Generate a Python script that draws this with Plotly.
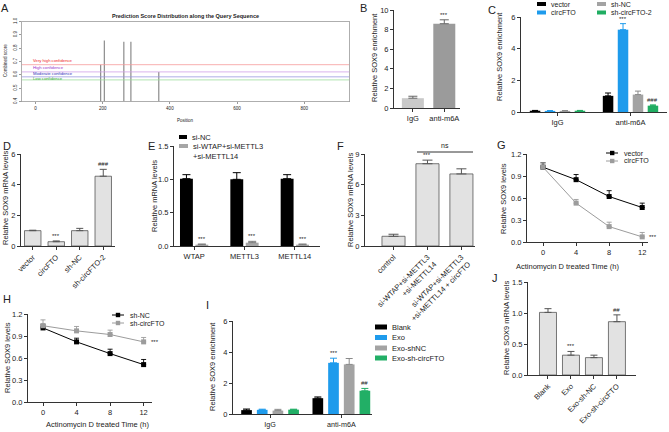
import plotly.graph_objects as go

W, H = 669, 432
def px(x): return x / W
def py(y): return 1 - y / H

FONT = "Liberation Sans, Arial, sans-serif"
AX = '#333333'
TXT = '#222222'
TICK = 7.5

# ---------------- data ----------------
# A: prediction score distribution
a_positions = [194, 205, 263, 284, 367]
a_scores = [0.676, 0.858, 0.848, 0.848, 0.622]
a_thr_names = ['Very high confidence', 'High confidence', 'Moderate confidence', 'Low confidence']
a_thr_values = [0.676, 0.622, 0.585, 0.562]
a_thr_line = ['#f59a9a', '#cfa0e8', '#9a9ae0', '#9ede9e']
a_thr_text = ['#ee2222', '#9933cc', '#3333bb', '#33aa33']
a_xticks = [0, 200, 400, 600, 800]
a_yticks = [0.4, 0.5, 0.6, 0.7, 0.8, 0.9, 1.0]

# B
b_cats = ['IgG', 'anti-m6A']
b_vals = [1.0, 8.6]
b_err = [0.2, 0.4]

# C
c_groups = ['IgG', 'anti-m6A']
c_series = ['vector', 'circFTO', 'sh-NC', 'sh-circFTO-2']
c_vals = [[0.08, 1.02], [0.07, 5.2], [0.07, 1.1], [0.08, 0.4]]
c_err = [[0.02, 0.18], [0.02, 0.38], [0.02, 0.22], [0.02, 0.05]]
c_marks = [['', ''], ['', '***'], ['', ''], ['', '###']]

# D
d_cats = ['vector', 'circFTO', 'sh-NC', 'sh-circFTO-2']
d_vals = [1.0, 0.28, 1.0, 4.55]
d_err = [0.03, 0.05, 0.15, 0.45]
d_marks = ['', '***', '', '###']

# E
e_genes = ['WTAP', 'METTL3', 'METTL14']
e_series = ['si-NC', 'si-WTAP+si-METTL3<br>+si-METTL14']
e_vals = [[1.01, 1.0, 1.01], [0.02, 0.05, 0.02]]
e_err = [[0.06, 0.1, 0.06], [0.01, 0.02, 0.01]]
e_marks = [['', '', ''], ['***', '***', '***']]

# F
f_cats = ['control', 'si-WTAP+si-METTL3<br>+si-METTL14', 'si-WTAP+si-METTL3<br>+si-METTL14 + circFTO']
f_vals = [0.95, 8.05, 7.05]
f_err = [0.2, 0.35, 0.5]
f_marks = ['', '***', '']

# G
time_h = [0, 4, 8, 12]
g_series = ['vector', 'circFTO']
g_vals = [[1.02, 0.85, 0.62, 0.47], [1.02, 0.53, 0.21, 0.07]]
g_err = [[0.06, 0.07, 0.08, 0.06], [0.06, 0.05, 0.06, 0.06]]

# H
h_series = ['sh-NC', 'sh-circFTO']
h_vals = [[1.01, 0.82, 0.66, 0.51], [1.04, 0.97, 0.92, 0.82]]
h_err = [[0.05, 0.05, 0.06, 0.07], [0.08, 0.06, 0.06, 0.06]]

# I
i_groups = ['IgG', 'anti-m6A']
i_series = ['Blank', 'Exo', 'Exo-shNC', 'Exo-sh-circFTO']
i_vals = [[0.25, 1.02], [0.27, 3.3], [0.22, 3.2], [0.28, 1.5]]
i_err = [[0.07, 0.08], [0.04, 0.3], [0.08, 0.38], [0.03, 0.15]]
i_marks = [['', ''], ['', '***'], ['', ''], ['', '##']]

# J
j_cats = ['Blank', 'Exo', 'Exo-sh-NC', 'Exo-sh-circFTO']
j_vals = [1.01, 0.32, 0.28, 0.86]
j_err = [0.06, 0.06, 0.04, 0.11]
j_marks = ['', '***', '', '##']

four_colors = ['#000000', '#1e9bec', '#a3a3a3', '#20ad62']
pair_colors = ['#000000', '#a6a6a6']
LIGHT = '#e2e2e2'
EDGE = '#555555'

fig = go.Figure()
ann = []
shapes = []

def text(t, x, y, size=7.5, color=TXT, xa='left', ya='middle', angle=0, bold=False):
    if bold:
        t = '<b>' + t + '</b>'
    ann.append(dict(text=t, x=px(x), y=py(y), xref='paper', yref='paper', showarrow=False,
                    xanchor=xa, yanchor=ya, textangle=angle,
                    font=dict(size=size, color=color, family=FONT)))

def rect(x0, y0, x1, y1, color):
    shapes.append(dict(type='rect', xref='paper', yref='paper', x0=px(x0), x1=px(x1),
                       y0=py(y1), y1=py(y0), fillcolor=color, line=dict(width=0)))

def pline(x0, y0, x1, y1, color, w=1):
    shapes.append(dict(type='line', xref='paper', yref='paper', x0=px(x0), x1=px(x1),
                       y0=py(y0), y1=py(y1), line=dict(color=color, width=w)))

def mark(t, xr, yr, x, y, size=6):
    if t:
        ann.append(dict(text=t, x=x, y=y, xref=xr, yref=yr, showarrow=False, xanchor='center',
                        yanchor='bottom', yshift=0, font=dict(size=size, color=TXT, family=FONT)))

BASE = dict(showline=True, linecolor=AX, linewidth=1, ticks='outside', ticklen=3,
            tickcolor=AX, tickwidth=1, tickfont=dict(size=TICK, color=TXT, family=FONT),
            showgrid=False, zeroline=False, fixedrange=True, automargin=False)

def xcat(x0, x1, rng, anchor, angle=0, size=TICK):
    d = dict(domain=[px(x0), px(x1)], range=rng, type='category', anchor=anchor,
             tickangle=angle, **BASE)
    d['tickfont'] = dict(size=size, color=TXT, family=FONT)
    return d

def ylin(y0, y1, rng, dtick, anchor, fmt=None):
    d = dict(domain=[py(y1), py(y0)], range=rng, dtick=dtick, tick0=0, anchor=anchor, **BASE)
    if fmt:
        d['tickformat'] = fmt
    return d

def xlin(x0, x1, rng, tickvals, anchor):
    return dict(domain=[px(x0), px(x1)], range=rng, tickvals=tickvals, anchor=anchor, **BASE)

def err(e, color, w=3.5, th=1):
    return dict(type='data', array=e, arrayminus=[0] * len(e), symmetric=False,
                color=color, thickness=th, width=w)

layout_axes = {}

# ---------------- Panel A ----------------
sx, sy = [], []
for p, s in zip(a_positions, a_scores):
    sx += [p, p, None]
    sy += [a_yticks[0], s, None]
fig.add_trace(go.Scatter(x=sx, y=sy, mode='lines', line=dict(color='#8c8c8c', width=1.2),
                         xaxis='x', yaxis='y'))
a_label_shift = [4.2, 4.1, 3.8, 1.5]
for name, v, lc, tc, ys in zip(a_thr_names, a_thr_values, a_thr_line, a_thr_text, a_label_shift):
    shapes.append(dict(type='line', xref='x domain', yref='y', x0=0, x1=1, y0=v, y1=v,
                       line=dict(color=lc, width=0.8)))
    ann.append(dict(text=name, xref='x', yref='y', x=-13, y=v, xanchor='left', yanchor='middle',
                    yshift=ys, showarrow=False, font=dict(size=4.2, color=tc, family=FONT)))
a_small = dict(size=4.5, color=TXT, family=FONT)
layout_axes['xaxis'] = dict(domain=[px(22), px(349)], range=[-40, 933], tickvals=a_xticks, anchor='y',
                            showline=True, mirror=True, linecolor='#9a9a9a', linewidth=0.8,
                            ticks='outside', ticklen=2, tickcolor='#9a9a9a', tickfont=a_small,
                            showgrid=False, zeroline=False, fixedrange=True, automargin=False)
layout_axes['yaxis'] = dict(domain=[py(101.5), py(21.5)], range=[0.4, 1.0], tickvals=a_yticks,
                            tickformat='.1f', tickangle=-90, anchor='x',
                            showline=True, mirror=True, linecolor='#9a9a9a', linewidth=0.8,
                            ticks='outside', ticklen=2, tickcolor='#9a9a9a', tickfont=a_small,
                            showgrid=False, zeroline=False, fixedrange=True, automargin=False)
text('Prediction Score Distribution along the Query Sequence', 185, 16, size=5.5, xa='center', bold=True)
text('Position', 185, 121, size=4.5, xa='center')
text('Combined score', 5, 61, size=4.5, xa='center', angle=-90)

# ---------------- Panel B ----------------
fig.add_trace(go.Bar(x=b_cats, y=b_vals, width=0.7, marker=dict(color=['#c9c9c9', '#9b9b9b'], line=dict(width=0)),
                     error_y=err(b_err, '#666666', w=4.5), xaxis='x2', yaxis='y2'))
layout_axes['xaxis2'] = xcat(394, 460, [-0.6, 1.5], 'y2')
layout_axes['yaxis2'] = ylin(10, 108, [0, 10], 2, 'x2')
for i, c in enumerate(b_cats):
    mark('***' if i == 1 else '', 'x2', 'y2', i, b_vals[i] + b_err[i])
text('Relative SOX9 enrichment', 375, 57, xa='center', angle=-90)

# ---------------- grouped helper ----------------
def grouped(groups, series, vals, errs, colors, marks, xr, yr, s, w, cap):
    n = len(series)
    for k in range(n):
        shift = (k - (n - 1) / 2) * s
        fig.add_trace(go.Bar(x=groups, y=vals[k], width=w, offset=shift - w / 2,
                             marker=dict(color=colors[k], line=dict(width=0)),
                             error_y=err(errs[k], colors[k] if colors[k] != '#a3a3a3' else '#8a8a8a', w=cap),
                             xaxis=xr, yaxis=yr))
        for g in range(len(groups)):
            mark(marks[k][g], xr, yr, g + shift, vals[k][g] + errs[k][g])

# ---------------- Panel C ----------------
grouped(c_groups, c_series, c_vals, c_err, four_colors, c_marks, 'x3', 'y3', 0.205, 0.144, 3)
layout_axes['xaxis3'] = xcat(521, 667, [-0.5, 1.5], 'y3')
layout_axes['yaxis3'] = ylin(17, 112, [0, 6], 2, 'x3')
text('Relative SOX9 enrichment', 500, 57, xa='center', angle=-90)
c_leg_pos = [(537, 4), (537, 12.5), (597, 4), (597, 12.5)]
for name, col, (lx, ly) in zip(c_series, four_colors, c_leg_pos):
    rect(lx, ly - 2, lx + 9, ly + 2, col)
    text(name, lx + 12, ly, size=7)

# ---------------- Panel D ----------------
fig.add_trace(go.Bar(x=d_cats, y=d_vals, width=0.7, marker=dict(color=LIGHT, line=dict(color=EDGE, width=0.8)),
                     error_y=err(d_err, EDGE, w=3.5), xaxis='x4', yaxis='y4'))
for i in range(len(d_cats)):
    mark(d_marks[i], 'x4', 'y4', i, d_vals[i] + d_err[i])
layout_axes['xaxis4'] = xcat(21, 115, [-0.5, 3.5], 'y4', angle=-45)
layout_axes['yaxis4'] = ylin(154, 246, [0, 6], 2, 'x4')
text('Relative SOX9 mRNA levels', 6, 198, xa='center', angle=-90)

# ---------------- Panel E ----------------
n = len(e_series)
for k in range(n):
    s, w = 0.306, 0.256
    shift = (k - (n - 1) / 2) * s
    fig.add_trace(go.Bar(x=e_genes, y=e_vals[k], width=w, offset=shift - w / 2,
                         marker=dict(color=pair_colors[k], line=dict(width=0)),
                         error_y=err(e_err[k], '#000000' if k == 0 else '#7a7a7a', w=4),
                         xaxis='x5', yaxis='y5'))
    for g in range(len(e_genes)):
        mark(e_marks[k][g], 'x5', 'y5', g + shift, e_vals[k][g] + e_err[k][g])
layout_axes['xaxis5'] = xcat(174, 320, [-0.4, 2.5], 'y5')
layout_axes['yaxis5'] = ylin(146, 246, [0, 1.5], 0.5, 'x5', fmt='.1f')
text('Relative mRNA levels', 154, 196, xa='center', angle=-90)
rect(179, 135, 187, 139, pair_colors[0])
text(e_series[0], 190, 137)
rect(179, 144, 188, 148, pair_colors[1])
ann.append(dict(text=e_series[1], x=px(191), y=py(140.5), xref='paper', yref='paper', showarrow=False,
                xanchor='left', yanchor='top', align='left',
                font=dict(size=7.5, color=TXT, family=FONT)))

# ---------------- Panel F ----------------
fig.add_trace(go.Bar(x=f_cats, y=f_vals, width=0.68, marker=dict(color=LIGHT, line=dict(color=EDGE, width=0.8)),
                     error_y=err(f_err, EDGE, w=5), xaxis='x6', yaxis='y6'))
for i in range(len(f_cats)):
    mark(f_marks[i], 'x6', 'y6', i, f_vals[i] + f_err[i])
layout_axes['xaxis6'] = xcat(365, 475, [-0.84, 2.4], 'y6', angle=-45)
layout_axes['yaxis6'] = ylin(154, 246, [0, 9], 3, 'x6')
text('Relative SOX9 mRNA levels', 350, 200, xa='center', angle=-90)
pline(417, 152, 473, 152, AX, 1)
text('ns', 445, 145, size=7, xa='center')

# ---------------- line panels ----------------
def lines(series, vals, errs, colors, xr, yr):
    for k in range(len(series)):
        fig.add_trace(go.Scatter(x=time_h, y=vals[k], mode='lines+markers',
                                 line=dict(color=colors[k], width=1),
                                 marker=dict(symbol='square', size=5, color=colors[k]),
                                 error_y=err(errs[k], colors[k], w=2.5, th=0.9),
                                 xaxis=xr, yaxis=yr))

line_colors = ['#000000', '#9c9c9c']
# G
lines(g_series, g_vals, g_err, line_colors, 'x7', 'y7')
layout_axes['xaxis7'] = xlin(527, 648, [-1.94, 12.7], time_h, 'y7')
layout_axes['yaxis7'] = ylin(154, 242, [0, 1.2], 0.3, 'x7', fmt='.1f')
text('Relative SOX9 levels', 503, 199, xa='center', angle=-90)
text('Actinomycin D treated Time (h)', 567, 266, xa='center')
ann.append(dict(text='***', x=12, y=g_vals[1][3], xref='x7', yref='y7', showarrow=False, xanchor='left',
                xshift=5, font=dict(size=6, color=TXT, family=FONT)))
for k, (name, ly) in enumerate(zip(g_series, [153, 161])):
    pline(606, ly, 618, ly, line_colors[k], 1)
    rect(610, ly - 2.2, 614.4, ly + 2.2, line_colors[k])
    text(name, 622, ly, size=7)

# H
lines(h_series, h_vals, h_err, line_colors, 'x8', 'y8')
layout_axes['xaxis8'] = xlin(28, 152, [-1.79, 13.0], time_h, 'y8')
layout_axes['yaxis8'] = ylin(314, 402, [0, 1.2], 0.3, 'x8', fmt='.1f')
text('Relative SOX9 levels', 7, 358, xa='center', angle=-90)
text('Actinomycin D treated Time (h)', 97, 424, xa='center')
ann.append(dict(text='***', x=12, y=h_vals[1][3], xref='x8', yref='y8', showarrow=False, xanchor='left',
                xshift=5, font=dict(size=6, color=TXT, family=FONT)))
for k, (name, ly) in enumerate(zip(h_series, [315, 323])):
    pline(112, ly, 124, ly, line_colors[k], 1)
    rect(115.8, ly - 2.2, 120.2, ly + 2.2, line_colors[k])
    text(name, 128, ly, size=7)

# ---------------- Panel I ----------------
i_colors = ['#000000', '#1e9bec', '#a3a3a3', '#22af66']
grouped(i_groups, i_series, i_vals, i_err, i_colors, i_marks, 'x9', 'y9', 0.22, 0.15, 3.5)
layout_axes['xaxis9'] = xcat(233, 372, [-0.52, 1.43], 'y9', size=7.2)
layout_axes['yaxis9'] = ylin(321, 414, [0, 6], 2, 'x9')
text('Relative SOX9 enrichment', 212, 367, xa='center', angle=-90)
for name, col, ly in zip(i_series, i_colors, [327, 337.5, 348, 358]):
    rect(375, ly - 2.5, 387, ly + 2.5, col)
    text(name, 390, ly)

# ---------------- Panel J ----------------
fig.add_trace(go.Bar(x=j_cats, y=j_vals, width=0.74, marker=dict(color=LIGHT, line=dict(color=EDGE, width=0.8)),
                     error_y=err(j_err, EDGE, w=3.5), xaxis='x10', yaxis='y10'))
for i in range(len(j_cats)):
    mark(j_marks[i], 'x10', 'y10', i, j_vals[i] + j_err[i])
layout_axes['xaxis10'] = xcat(528, 636, [-0.87, 3.83], 'y10', angle=-45)
layout_axes['yaxis10'] = ylin(282, 375, [0, 1.5], 0.5, 'x10', fmt='.1f')
text('Relative SOX9 mRNA levels', 506, 328, xa='center', angle=-90)

# ---------------- panel letters ----------------
for L, (lx, ly) in zip('ABCDEFGHIJ', [(5, 8), (363, 8), (492, 10), (7, 146), (151, 146), (340, 146),
                                      (501, 145), (7, 299), (207, 305), (495, 278)]):
    text(L, lx, ly, size=11, xa='center')

fig.update_layout(
    template='none',
    width=W, height=H, margin=dict(l=0, r=0, t=0, b=0, pad=0, autoexpand=False),
    paper_bgcolor='white', plot_bgcolor='white',
    barmode='overlay', showlegend=False,
    font=dict(family=FONT, color=TXT),
    annotations=ann, shapes=shapes,
    **layout_axes
)
for tr in fig.data:
    tr.hoverinfo = 'skip'

fig.write_html("out.html", config={'displayModeBar': False, 'staticPlot': True},
               post_script="document.body.style.margin='0px';document.body.style.padding='0px';")
